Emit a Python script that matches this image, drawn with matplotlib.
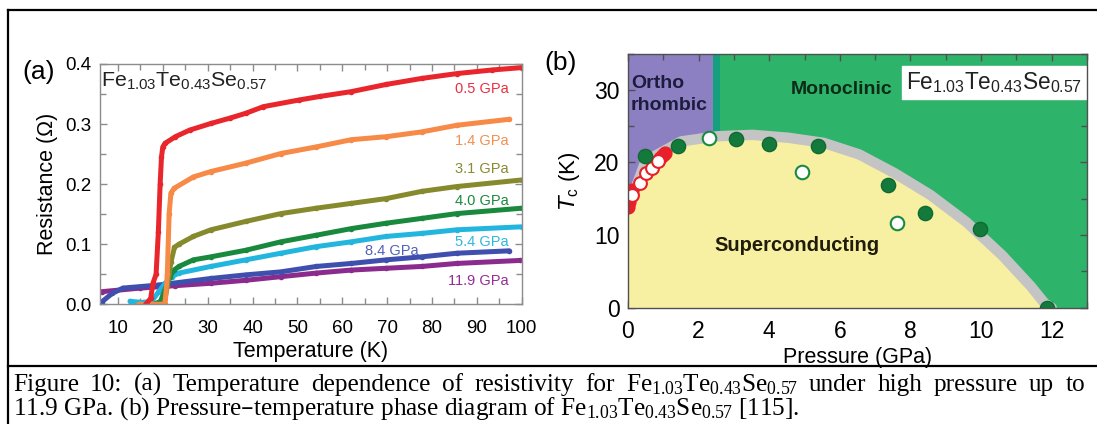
import matplotlib
matplotlib.use("Agg")
import matplotlib.pyplot as plt
from matplotlib.lines import Line2D
from matplotlib.ticker import MultipleLocator, FormatStrFormatter

plt.rcParams['font.family'] = ['Liberation Sans', 'DejaVu Sans']

# ---------------- panel (a) data: resistance vs temperature ----------------
T_05 = [16.2, 17.3, 17.8, 18.5, 19.0, 19.4, 19.7, 20.0, 20.5, 22.8, 26.0, 30.7, 35.0, 38.5, 42.4, 50.3, 55.0, 62.0, 69.8, 77.7, 85.5, 93.3, 100.0]
R_05 = [0.0, 0.01, 0.035, 0.05, 0.12, 0.20, 0.245, 0.262, 0.268, 0.279, 0.290, 0.301, 0.310, 0.318, 0.329, 0.340, 0.346, 0.354, 0.366, 0.376, 0.384, 0.390, 0.394]
T_14 = [14.6, 20.5, 21.0, 21.4, 21.8, 22.5, 26.8, 30.7, 38.5, 46.3, 54.2, 62.0, 69.8, 77.7, 85.5, 97.2]
R_14 = [0.0, 0.0, 0.05, 0.15, 0.185, 0.193, 0.212, 0.221, 0.235, 0.251, 0.262, 0.274, 0.279, 0.287, 0.298, 0.308]
T_31 = [18.0, 20.3, 21.0, 21.8, 22.6, 23.6, 26.8, 30.7, 38.5, 46.3, 54.2, 62.0, 69.8, 77.7, 85.5, 100.0]
R_31 = [0.0, 0.0, 0.03, 0.07, 0.095, 0.100, 0.113, 0.124, 0.138, 0.151, 0.160, 0.168, 0.176, 0.188, 0.196, 0.207]
T_40 = [18.0, 19.5, 20.5, 21.5, 22.5, 23.6, 26.8, 30.7, 38.5, 46.3, 54.2, 62.0, 69.8, 77.7, 85.5, 100.0]
R_40 = [0.0, 0.005, 0.025, 0.045, 0.057, 0.063, 0.074, 0.079, 0.090, 0.104, 0.115, 0.126, 0.135, 0.143, 0.151, 0.160]
T_54 = [12.7, 15.5, 17.5, 19.0, 20.5, 22.0, 23.6, 30.7, 38.5, 46.3, 54.2, 62.0, 69.8, 77.7, 85.5, 100.0]
R_54 = [0.005, 0.003, 0.005, 0.020, 0.035, 0.046, 0.052, 0.063, 0.074, 0.085, 0.096, 0.104, 0.113, 0.118, 0.124, 0.129]
T_84 = [6.4, 8.7, 11.1, 18.9, 30.7, 38.5, 46.3, 54.2, 62.0, 69.8, 77.7, 85.5, 97.2]
R_84 = [0.004, 0.018, 0.027, 0.032, 0.043, 0.049, 0.054, 0.063, 0.068, 0.074, 0.079, 0.085, 0.089]
T_119 = [6.4, 15.0, 22.8, 30.7, 38.5, 46.3, 54.2, 62.0, 69.8, 77.7, 85.5, 99.6]
R_119 = [0.021, 0.027, 0.031, 0.035, 0.040, 0.046, 0.052, 0.057, 0.060, 0.063, 0.068, 0.073]

curve_labels = ['0.5 GPa', '1.4 GPa', '3.1 GPa', '4.0 GPa', '5.4 GPa', '8.4 GPa', '11.9 GPa']
label_T = [97.0, 97.0, 97.0, 97.0, 97.0, 77.0, 97.0]
label_R = [0.358, 0.271, 0.226, 0.172, 0.104, 0.089, 0.039]

# ---------------- panel (b) data: phase diagram ----------------
dome_P = [0.0, 0.5, 1.51, 2.52, 3.53, 4.54, 5.54, 6.55, 7.56, 8.57, 9.58, 10.6, 11.4, 11.8, 12.0]
dome_T = [13.7, 20.2, 22.9, 23.6, 23.8, 23.4, 22.7, 21.1, 18.5, 15.5, 11.8, 7.2, 3.0, 0.6, 0.0]
ortho_P_max = 2.4
mixed_P_max = 2.6

green_fill_P = [0.48, 1.41, 3.07, 3.98, 5.39, 7.36, 8.42, 9.98, 11.88]
green_fill_T = [20.9, 22.25, 23.2, 22.6, 22.25, 16.9, 13.1, 10.85, 0.0]
green_open_P = [2.29, 4.94, 7.61]
green_open_T = [23.3, 18.7, 11.6]
red_fill_P = [0.0, 0.03, 0.06, 0.1, 0.92, 1.0, 1.05]
red_fill_T = [13.9, 14.6, 15.4, 16.2, 20.6, 21.0, 21.3]
red_open_P = [0.12, 0.33, 0.5, 0.69, 0.85]
red_open_T = [15.5, 17.2, 18.6, 19.3, 20.2]

FORMULA = r'$\mathregular{Fe_{1.03}Te_{0.43}Se_{0.57}}$'
CAP_FORMULA = r'Fe$\mathregular{_{1.03}}$Te$\mathregular{_{0.43}}$Se$\mathregular{_{0.57}}$'
caption_line1 = ('Figure 10: (a) Temperature dependence of resistivity for ' + CAP_FORMULA +
                 ' under high pressure up to')
caption_line2 = '11.9 GPa. (b) Pressure–temperature phase diagram of ' + CAP_FORMULA + ' [115].'

W, H = 1097, 424
fig = plt.figure(figsize=(W / 100, H / 100), dpi=100)

# ---------- panel (a) ----------
axa = fig.add_axes([100 / W, 1 - 304.3 / H, 421.8 / W, 240.3 / H])
series = [(T_05, R_05, '#e8262c'), (T_14, R_14, '#f68a46'), (T_31, R_31, '#868a2c'),
          (T_40, R_40, '#19893e'), (T_54, R_54, '#22b6de'), (T_84, R_84, '#3f4fae'),
          (T_119, R_119, '#8b2b8d')]
label_colors = ['#e83040', '#f29052', '#8a8a30', '#1a8a3c', '#30b8e0', '#5262b8', '#942e92']
for (t, r, c) in series[::-1]:
    axa.plot(t, r, color=c, lw=3.6, solid_capstyle='round', marker='o', ms=4, mew=0)
for lab, lt, lr, lc in zip(curve_labels, label_T, label_R, label_colors):
    axa.text(lt, lr, lab, color=lc, fontsize=10.5, ha='right', va='center')
axa.set_xlim(6, 100)
axa.set_ylim(0, 0.4)
axa.set_xticks([10, 20, 30, 40, 50, 60, 70, 80, 90, 100])
axa.xaxis.set_minor_locator(MultipleLocator(5))
axa.yaxis.set_major_locator(MultipleLocator(0.1))
axa.yaxis.set_minor_locator(MultipleLocator(0.05))
axa.yaxis.set_major_formatter(FormatStrFormatter('%.1f'))
axa.set_xlabel('Temperature (K)', fontsize=15.5, labelpad=3)
axa.set_ylabel('Resistance (Ω)', fontsize=15.5, labelpad=5)
axa.text(6.3, 0.389, FORMULA, fontsize=15.4, va='top', ha='left', color='#222222')
fig.text(39 / W, 1 - 72 / H, '(a)', fontsize=19, ha='center', va='center')

# ---------- panel (b) ----------
axb = fig.add_axes([628 / W, 1 - 307.7 / H, 459 / W, 254.2 / H])
axb.set_xlim(0, 13)
axb.set_ylim(0, 35)
axb.set_facecolor('#2db46a')
axb.axvspan(0, ortho_P_max, color='#8c80c2', lw=0)
axb.axvspan(ortho_P_max, mixed_P_max, color='#14a07c', lw=0)
axb.fill_between(dome_P, 0, dome_T, color='#f7f0a2', lw=0, zorder=2)
axb.plot(dome_P, dome_T, color='#c4c4c4', lw=7.5, solid_capstyle='round', zorder=3)
axb.scatter(red_fill_P, red_fill_T, s=85, c='#e8202a', edgecolors='#e8202a', zorder=4)
axb.scatter(red_open_P, red_open_T, s=85, c='white', edgecolors='#e8202a', linewidths=1.5, zorder=5)
axb.scatter(green_fill_P, green_fill_T, s=105, c='#137a3c', edgecolors='#0f6a32', zorder=5)
axb.scatter(green_open_P, green_open_T, s=95, c='white', edgecolors='#1a8a40', linewidths=1.5, zorder=5)
axb.text(0.08, 29.3, 'Ortho\nrhombic', fontsize=14, fontweight='bold', color='#1c1c3c',
         ha='left', va='center', linespacing=1.4, zorder=6)
axb.text(4.6, 30.0, 'Monoclinic', fontsize=14, fontweight='bold', color='#0c2a16',
         ha='left', va='center', zorder=6)
axb.text(2.45, 8.5, 'Superconducting', fontsize=14.5, fontweight='bold', color='#201c0a',
         ha='left', va='center', zorder=6)
axb.text(7.88, 31.0, FORMULA, fontsize=16.3, ha='left', va='center', color='#222222', zorder=6,
         bbox=dict(boxstyle='square,pad=0.18', fc='white', ec='white'))
axb.set_xticks([0, 2, 4, 6, 8, 10, 12])
axb.xaxis.set_minor_locator(MultipleLocator(1))
axb.yaxis.set_major_locator(MultipleLocator(10))
axb.yaxis.set_minor_locator(MultipleLocator(5))
axb.set_xlabel('Pressure (GPa)', fontsize=15.5, labelpad=3)
axb.set_ylabel(r'$T_\mathregular{c}$ (K)', fontsize=16, labelpad=9)
fig.text(561 / W, 1 - 63 / H, '(b)', fontsize=19, ha='center', va='center')

for ax, sc, ls in ((axa, '#8c8c8c', 13.5), (axb, '#505050', 16.5)):
    for s in ax.spines.values():
        s.set_color(sc)
        s.set_linewidth(1.0)
        s.set_zorder(7)
    ax.tick_params(which='both', direction='in', top=True, right=True, color=sc, labelsize=ls)
    ax.tick_params(which='major', length=5, width=1)
    ax.tick_params(which='minor', length=4, width=1)
    ax.tick_params(axis='y', pad=6)
axa.tick_params(axis='x', pad=11)
axb.tick_params(axis='x', pad=9)

# ---------- frame lines and caption ----------
lx = 8 / W
fig.add_artist(Line2D([lx, 1], [1 - 10 / H, 1 - 10 / H], color='black', lw=1.6))
fig.add_artist(Line2D([lx, lx], [0, 1 - 10 / H], color='black', lw=1.6))
fig.add_artist(Line2D([lx, 1], [1 - 366 / H, 1 - 366 / H], color='black', lw=1.6))

cap_kw = dict(fontsize=18.2, family='Liberation Serif', ha='left', va='baseline')
# first line: justified between x=13 and x=1085 (like the typeset caption)
renderer = fig.canvas.get_renderer()
words = caption_line1.split(' ')
texts = [fig.text(0, 1 - 391 / H, w, **cap_kw) for w in words]
widths = [t.get_window_extent(renderer).width for t in texts]
x_left, x_right = 13.0, 1085.0
gap = (x_right - x_left - sum(widths)) / (len(words) - 1)
x = x_left
for t, wdt in zip(texts, widths):
    t.set_x(x / W)
    x += wdt + gap
fig.text(13 / W, 1 - 415 / H, caption_line2, **cap_kw)

fig.savefig('out.png', dpi=100)
